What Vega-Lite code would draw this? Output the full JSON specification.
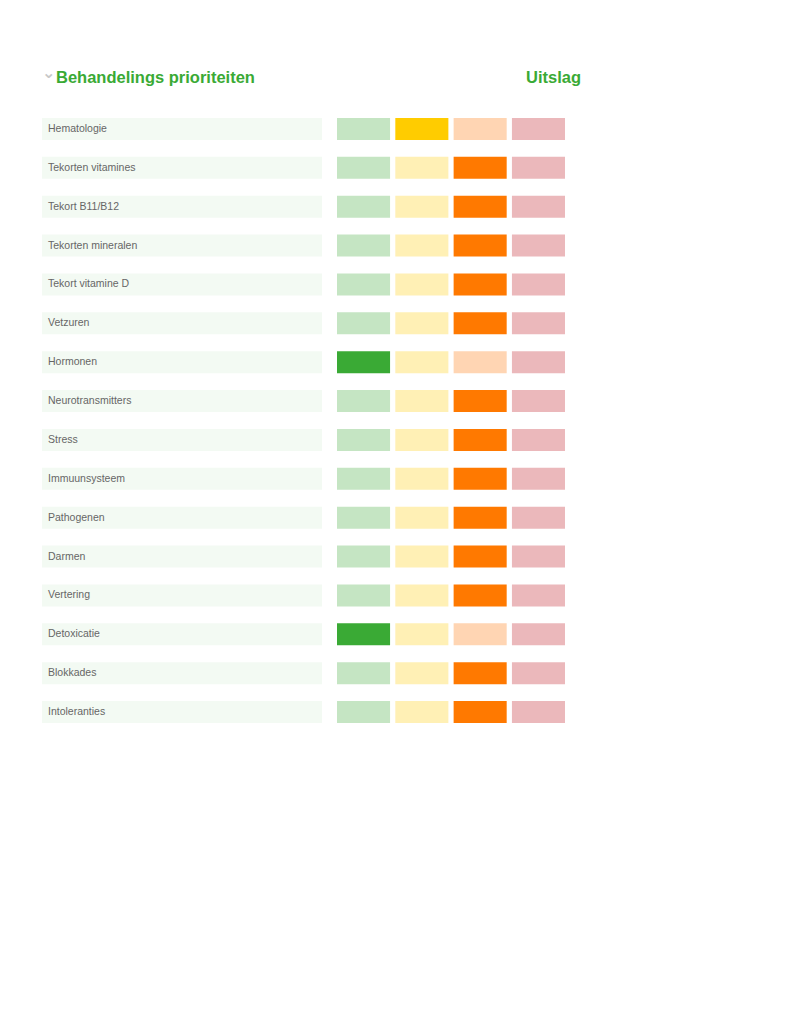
{
  "$schema": "https://vega.github.io/schema/vega-lite/v6.json",
  "background": "white",
  "padding": {"left": 42, "top": 64, "right": 10, "bottom": 10},
  "title": {"text": "⌄", "anchor": "start", "color": "#c8c8c8", "font": "DejaVu Sans", "fontSize": 16, "fontWeight": "bold", "offset": -11, "orient": "top", "frame": "bounds"},
  "datasets": {
    "items": [
      {"item": "Hematologie"}, {"item": "Tekorten vitamines"}, {"item": "Tekort B11/B12"}, {"item": "Tekorten mineralen"},
      {"item": "Tekort vitamine D"}, {"item": "Vetzuren"}, {"item": "Hormonen"}, {"item": "Neurotransmitters"},
      {"item": "Stress"}, {"item": "Immuunsysteem"}, {"item": "Pathogenen"}, {"item": "Darmen"},
      {"item": "Vertering"}, {"item": "Detoxicatie"}, {"item": "Blokkades"}, {"item": "Intoleranties"}
    ],
    "cellen": [
      {"item": "Hematologie", "kolom": 1, "niveau": "groen"}, {"item": "Hematologie", "kolom": 2, "niveau": "geel-actief"}, {"item": "Hematologie", "kolom": 3, "niveau": "oranje"}, {"item": "Hematologie", "kolom": 4, "niveau": "rood"},
      {"item": "Tekorten vitamines", "kolom": 1, "niveau": "groen"}, {"item": "Tekorten vitamines", "kolom": 2, "niveau": "geel"}, {"item": "Tekorten vitamines", "kolom": 3, "niveau": "oranje-actief"}, {"item": "Tekorten vitamines", "kolom": 4, "niveau": "rood"},
      {"item": "Tekort B11/B12", "kolom": 1, "niveau": "groen"}, {"item": "Tekort B11/B12", "kolom": 2, "niveau": "geel"}, {"item": "Tekort B11/B12", "kolom": 3, "niveau": "oranje-actief"}, {"item": "Tekort B11/B12", "kolom": 4, "niveau": "rood"},
      {"item": "Tekorten mineralen", "kolom": 1, "niveau": "groen"}, {"item": "Tekorten mineralen", "kolom": 2, "niveau": "geel"}, {"item": "Tekorten mineralen", "kolom": 3, "niveau": "oranje-actief"}, {"item": "Tekorten mineralen", "kolom": 4, "niveau": "rood"},
      {"item": "Tekort vitamine D", "kolom": 1, "niveau": "groen"}, {"item": "Tekort vitamine D", "kolom": 2, "niveau": "geel"}, {"item": "Tekort vitamine D", "kolom": 3, "niveau": "oranje-actief"}, {"item": "Tekort vitamine D", "kolom": 4, "niveau": "rood"},
      {"item": "Vetzuren", "kolom": 1, "niveau": "groen"}, {"item": "Vetzuren", "kolom": 2, "niveau": "geel"}, {"item": "Vetzuren", "kolom": 3, "niveau": "oranje-actief"}, {"item": "Vetzuren", "kolom": 4, "niveau": "rood"},
      {"item": "Hormonen", "kolom": 1, "niveau": "groen-actief"}, {"item": "Hormonen", "kolom": 2, "niveau": "geel"}, {"item": "Hormonen", "kolom": 3, "niveau": "oranje"}, {"item": "Hormonen", "kolom": 4, "niveau": "rood"},
      {"item": "Neurotransmitters", "kolom": 1, "niveau": "groen"}, {"item": "Neurotransmitters", "kolom": 2, "niveau": "geel"}, {"item": "Neurotransmitters", "kolom": 3, "niveau": "oranje-actief"}, {"item": "Neurotransmitters", "kolom": 4, "niveau": "rood"},
      {"item": "Stress", "kolom": 1, "niveau": "groen"}, {"item": "Stress", "kolom": 2, "niveau": "geel"}, {"item": "Stress", "kolom": 3, "niveau": "oranje-actief"}, {"item": "Stress", "kolom": 4, "niveau": "rood"},
      {"item": "Immuunsysteem", "kolom": 1, "niveau": "groen"}, {"item": "Immuunsysteem", "kolom": 2, "niveau": "geel"}, {"item": "Immuunsysteem", "kolom": 3, "niveau": "oranje-actief"}, {"item": "Immuunsysteem", "kolom": 4, "niveau": "rood"},
      {"item": "Pathogenen", "kolom": 1, "niveau": "groen"}, {"item": "Pathogenen", "kolom": 2, "niveau": "geel"}, {"item": "Pathogenen", "kolom": 3, "niveau": "oranje-actief"}, {"item": "Pathogenen", "kolom": 4, "niveau": "rood"},
      {"item": "Darmen", "kolom": 1, "niveau": "groen"}, {"item": "Darmen", "kolom": 2, "niveau": "geel"}, {"item": "Darmen", "kolom": 3, "niveau": "oranje-actief"}, {"item": "Darmen", "kolom": 4, "niveau": "rood"},
      {"item": "Vertering", "kolom": 1, "niveau": "groen"}, {"item": "Vertering", "kolom": 2, "niveau": "geel"}, {"item": "Vertering", "kolom": 3, "niveau": "oranje-actief"}, {"item": "Vertering", "kolom": 4, "niveau": "rood"},
      {"item": "Detoxicatie", "kolom": 1, "niveau": "groen-actief"}, {"item": "Detoxicatie", "kolom": 2, "niveau": "geel"}, {"item": "Detoxicatie", "kolom": 3, "niveau": "oranje"}, {"item": "Detoxicatie", "kolom": 4, "niveau": "rood"},
      {"item": "Blokkades", "kolom": 1, "niveau": "groen"}, {"item": "Blokkades", "kolom": 2, "niveau": "geel"}, {"item": "Blokkades", "kolom": 3, "niveau": "oranje-actief"}, {"item": "Blokkades", "kolom": 4, "niveau": "rood"},
      {"item": "Intoleranties", "kolom": 1, "niveau": "groen"}, {"item": "Intoleranties", "kolom": 2, "niveau": "geel"}, {"item": "Intoleranties", "kolom": 3, "niveau": "oranje-actief"}, {"item": "Intoleranties", "kolom": 4, "niveau": "rood"}
    ]
  },
  "config": {
    "view": {"stroke": null},
    "font": "Liberation Sans",
    "title": {"font": "Liberation Sans"}
  },
  "spacing": 15,
  "hconcat": [
    {
      "width": 280,
      "height": 605,
      "data": {"name": "items"},
      "title": {"text": "Behandelings prioriteiten", "anchor": "start", "dx": 14, "color": "#3aaa35", "fontSize": 16.5, "fontWeight": "bold", "baseline": "alphabetic", "offset": 19},
      "encoding": {
        "y": {"field": "item", "type": "nominal", "sort": null, "axis": null, "scale": {"paddingInner": 0.434, "paddingOuter": 0}}
      },
      "layer": [
        {
          "mark": {"type": "bar", "color": "#f3faf3"},
          "encoding": {
            "x": {"datum": 0, "type": "quantitative", "scale": {"domain": [0, 1]}, "axis": null},
            "x2": {"datum": 1}
          }
        },
        {
          "mark": {"type": "text", "align": "left", "baseline": "middle", "dx": 6, "fontSize": 10.5, "color": "#666666"},
          "encoding": {
            "x": {"datum": 0, "type": "quantitative"},
            "text": {"field": "item"}
          }
        }
      ]
    },
    {
      "width": 228,
      "height": 605,
      "data": {"name": "cellen"},
      "title": {"text": "Uitslag", "anchor": "end", "dx": 16, "color": "#3aaa35", "fontSize": 16.5, "fontWeight": "bold", "baseline": "alphabetic", "offset": 19},
      "mark": {"type": "rect"},
      "encoding": {
        "y": {"field": "item", "type": "nominal", "sort": null, "axis": null, "scale": {"paddingInner": 0.434, "paddingOuter": 0}},
        "x": {"field": "kolom", "type": "ordinal", "axis": null, "scale": {"paddingInner": 0.09, "paddingOuter": 0}},
        "color": {
          "field": "niveau", "type": "nominal", "legend": null,
          "scale": {
            "domain": ["groen", "groen-actief", "geel", "geel-actief", "oranje", "oranje-actief", "rood"],
            "range": ["#c5e5c3", "#3aaa35", "#fff0b5", "#ffcc00", "#ffd5b3", "#ff7900", "#ebb8bb"]
          }
        }
      }
    }
  ]
}
